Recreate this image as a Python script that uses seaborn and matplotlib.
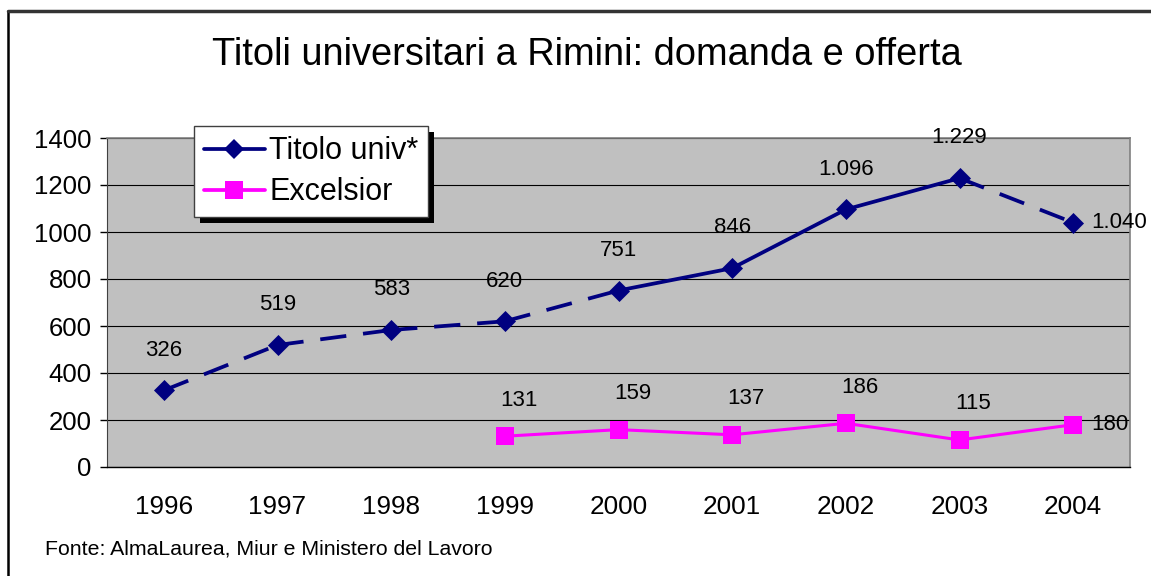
import numpy as np
import pandas as pd
import matplotlib
matplotlib.use("Agg")
import matplotlib.pyplot as plt
import seaborn as sns
from matplotlib.lines import Line2D
from matplotlib.patches import Rectangle

# Daten
years = ["1996", "1997", "1998", "1999", "2000", "2001", "2002", "2003", "2004"]
titolo = [326, 519, 583, 620, 751, 846, 1096, 1229, 1040]
excelsior = [np.nan, np.nan, np.nan, 131, 159, 137, 186, 115, 180]

# Stil der Verbindungslinien (gestrichelt oder durchgezogen) fuer Titolo univ*
titolo_dashed = [True, True, True, True, False, False, False, True]

sns.set_style("white")
plt.rcParams['font.family'] = ['Liberation Sans', 'DejaVu Sans']
plt.rcParams['text.color'] = 'black'
plt.rcParams['xtick.color'] = 'black'
plt.rcParams['ytick.color'] = 'black'

navy = "#000080"
magenta = "#FF00FF"

df = pd.DataFrame({"idx": range(len(years)), "year": years,
                   "titolo": titolo, "excelsior": excelsior})

fig = plt.figure(figsize=(11.51, 5.76), dpi=100)
ax = fig.add_axes([107 / 1151, 1 - 467 / 576, 1023 / 1151, 329 / 576])
ax.set_facecolor("#C0C0C0")

# Titolo univ*: Segment fuer Segment
for i in range(len(years) - 1):
    seg = df.iloc[i:i + 2]
    ls = (0, (7, 4.5)) if titolo_dashed[i] else "-"
    sns.lineplot(data=seg, x="idx", y="titolo", ax=ax, color=navy,
                 linewidth=2.7, linestyle=ls, zorder=3, legend=False)
sns.scatterplot(data=df, x="idx", y="titolo", ax=ax, color=navy, marker="D",
                s=115, linewidth=0, zorder=4, legend=False)

# Excelsior
exc = df.dropna(subset=["excelsior"])
sns.lineplot(data=exc, x="idx", y="excelsior", ax=ax, color=magenta,
             linewidth=2.2, zorder=3, legend=False)
sns.scatterplot(data=exc, x="idx", y="excelsior", ax=ax, color=magenta,
                marker="s", s=170, linewidth=0, zorder=4, legend=False)


def fmt(v):
    return f"{int(v):,}".replace(",", ".")


# Datenbeschriftungen
for i, v in enumerate(titolo):
    if i == len(titolo) - 1:
        ax.annotate(fmt(v), (i, v), xytext=(13, 0), textcoords="offset points",
                    ha="left", va="center", fontsize=16)
    else:
        ax.annotate(fmt(v), (i, v), xytext=(0, 29), textcoords="offset points",
                    ha="center", va="center", fontsize=16)
for i, v in enumerate(excelsior):
    if np.isnan(v):
        continue
    if i == len(excelsior) - 1:
        ax.annotate(fmt(v), (i, v), xytext=(13, 0), textcoords="offset points",
                    ha="left", va="center", fontsize=16)
    else:
        ax.annotate(fmt(v), (i, v), xytext=(10, 26), textcoords="offset points",
                    ha="center", va="center", fontsize=16)

# Achsen
ax.set_xlim(-0.5, len(years) - 0.5)
ax.set_ylim(0, 1400)
ax.set_yticks(range(0, 1401, 200))
ax.set_xticks(range(len(years)))
ax.set_xticklabels(years)
ax.set_xticks(np.arange(-0.5, len(years), 1.0), minor=True)
ax.tick_params(axis="x", which="major", length=0, pad=20, labelsize=18.8)
ax.tick_params(axis="x", which="minor", length=5, width=1, color="black",
               direction="out")
ax.tick_params(axis="y", length=5, width=1, color="black", direction="out",
               pad=6, labelsize=18.5, left=True)
ax.set_xlabel("")
ax.set_ylabel("")
ax.grid(axis="y", color="black", linewidth=0.8)
ax.set_axisbelow(True)
for side in ["top", "right"]:
    ax.spines[side].set_color("#808080")
    ax.spines[side].set_linewidth(1.2)
ax.spines["left"].set_color("#404040")
ax.spines["bottom"].set_color("black")
ax.spines["bottom"].set_linewidth(1.0)

# Legende
handles = [
    Line2D([], [], color=navy, lw=2.7, marker="D", markersize=10.5,
           markeredgewidth=0),
    Line2D([], [], color=magenta, lw=2.7, marker="s", markersize=13.5,
           markeredgewidth=0),
]
leg = ax.legend(handles, ["Titolo univ*", "Excelsior"], loc="upper left",
                bbox_to_anchor=(0.085, 1.035), fontsize=22, frameon=True,
                fancybox=False, framealpha=1, edgecolor="#404040",
                handlelength=2.0, handletextpad=0.15, borderpad=0.32,
                labelspacing=0.36, borderaxespad=0)
leg.get_frame().set_linewidth(1.0)
leg.set_zorder(6)

fig.canvas.draw()
bb = leg.get_window_extent().transformed(ax.transAxes.inverted())
dx = 6 / 1023
dy = 6 / 329
ax.add_patch(Rectangle((bb.x0 + dx, bb.y0 - dy), bb.width, bb.height,
                       transform=ax.transAxes, facecolor="black",
                       edgecolor="none", clip_on=False, zorder=5.5))

# Titel und Quelle
fig.text(587 / 1151, 1 - 55 / 576, "Titoli universitari a Rimini: domanda e offerta",
         ha="center", va="center", fontsize=27.4)
fig.text(45 / 1151, 1 - 549 / 576, "Fonte: AlmaLaurea, Miur e Ministero del Lavoro",
         ha="left", va="center", fontsize=15.3)

# Rahmen oben und links
fig.add_artist(Line2D([8 / 1151, 8 / 1151], [0, 1 - 11 / 576],
                      transform=fig.transFigure, color="black", lw=1.8))
fig.add_artist(Line2D([8 / 1151, 1], [1 - 11 / 576, 1 - 11 / 576],
                      transform=fig.transFigure, color="#333333", lw=2.5))

fig.savefig("out.png", dpi=100)
